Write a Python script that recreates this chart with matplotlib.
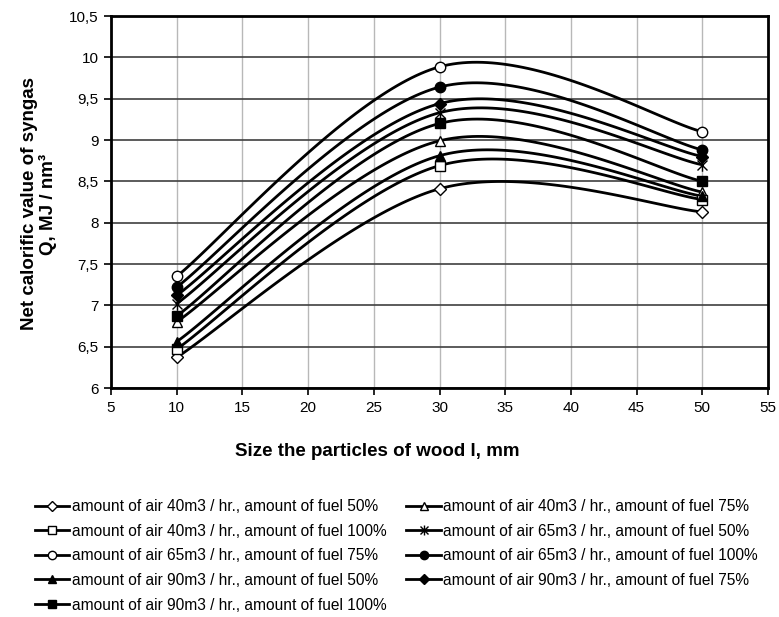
import numpy as np
import matplotlib
matplotlib.use("Agg")
import matplotlib.pyplot as plt
from matplotlib.path import Path
from matplotlib.ticker import FuncFormatter, MultipleLocator

plt.rcParams['font.family'] = ['Liberation Sans', 'DejaVu Sans']

# particle size, mm
sizes = [10, 30, 50]

labels = [
    "amount of air 40m3 / hr., amount of fuel 50%",
    "amount of air 40m3 / hr., amount of fuel 75%",
    "amount of air 40m3 / hr., amount of fuel 100%",
    "amount of air 65m3 / hr., amount of fuel 50%",
    "amount of air 65m3 / hr., amount of fuel 75%",
    "amount of air 65m3 / hr., amount of fuel 100%",
    "amount of air 90m3 / hr., amount of fuel 50%",
    "amount of air 90m3 / hr., amount of fuel 75%",
    "amount of air 90m3 / hr., amount of fuel 100%",
]

# net calorific value, MJ/nm3
air40_fuel50 = [6.37, 8.41, 8.13]
air40_fuel75 = [6.80, 8.99, 8.37]
air40_fuel100 = [6.47, 8.69, 8.28]
air65_fuel50 = [7.02, 9.33, 8.70]
air65_fuel75 = [7.35, 9.885, 9.10]
air65_fuel100 = [7.22, 9.64, 8.88]
air90_fuel50 = [6.56, 8.81, 8.32]
air90_fuel75 = [7.12, 9.44, 8.80]
air90_fuel100 = [6.87, 9.20, 8.50]

series = [air40_fuel50, air40_fuel75, air40_fuel100,
          air65_fuel50, air65_fuel75, air65_fuel100,
          air90_fuel50, air90_fuel75, air90_fuel100]

# asterisk marker like excel "star"
star = Path([(0, -1), (0, 1), (-0.8, -0.8), (0.8, 0.8), (-0.8, 0.8), (0.8, -0.8)],
            [Path.MOVETO, Path.LINETO, Path.MOVETO, Path.LINETO, Path.MOVETO, Path.LINETO])

styles = [
    dict(marker='D', mfc='white', ms=6),
    dict(marker='^', mfc='white', ms=7.5),
    dict(marker='s', mfc='white', ms=7),
    dict(marker=star, mfc='none', ms=9, mew=1.0),
    dict(marker='o', mfc='white', ms=7.5),
    dict(marker='o', mfc='black', ms=7.5),
    dict(marker='^', mfc='black', ms=7.5),
    dict(marker='D', mfc='black', ms=6),
    dict(marker='s', mfc='black', ms=7),
]


def smooth(x, y, n=60):
    # excel-like smoothed line (bezier, catmull-rom control points)
    x = np.asarray(x, float)
    y = np.asarray(y, float)
    P = np.column_stack([x, y])
    out = []
    t = np.linspace(0, 1, n)[:, None]
    for i in range(len(P) - 1):
        p0 = P[max(i - 1, 0)]
        p1 = P[i]
        p2 = P[i + 1]
        p3 = P[min(i + 2, len(P) - 1)]
        c1 = p1 + (p2 - p0) / 6
        c2 = p2 - (p3 - p1) / 6
        b = ((1 - t) ** 3) * p1 + 3 * ((1 - t) ** 2) * t * c1 + 3 * (1 - t) * t ** 2 * c2 + t ** 3 * p2
        out.append(b if i == 0 else b[1:])
    out = np.vstack(out)
    return out[:, 0], out[:, 1]


fig = plt.figure(figsize=(7.79, 6.17), dpi=100)
ax = fig.add_axes([111 / 779, 1 - 388 / 617, (768 - 111) / 779, (388 - 16) / 617])

handles = []
for vals, st, lab in zip(series, styles, labels):
    xs, ys = smooth(sizes, vals)
    ax.plot(xs, ys, color='black', lw=2.0, zorder=3, solid_capstyle='round')
    ax.plot(sizes, vals, ls='none', color='black', mec='black',
            mew=st.get('mew', 1.0), marker=st['marker'], mfc=st['mfc'], ms=st['ms'], zorder=4)
    h, = ax.plot([], [], color='black', lw=2.0, marker=st['marker'], mfc=st['mfc'],
                 mec='black', mew=st.get('mew', 1.0), ms=st['ms'] * 0.8, label=lab)
    handles.append(h)

ax.set_xlim(5, 55)
ax.set_ylim(6, 10.5)
ax.xaxis.set_major_locator(MultipleLocator(5))
ax.yaxis.set_major_locator(MultipleLocator(0.5))
ax.yaxis.set_major_formatter(FuncFormatter(lambda v, p: f"{v:g}".replace('.', ',')))

ax.grid(axis='x', color='#b8b8b8', lw=1.0, zorder=0)
ax.grid(axis='y', color='#404040', lw=1.2, zorder=0)
for s in ax.spines.values():
    s.set_linewidth(2.0)
    s.set_color('black')
ax.tick_params(direction='out', length=5, width=1.2, labelsize=11, pad=4)

fig.text(377 / 779, 1 - 452 / 617, "Size the particles of wood l, mm",
         ha='center', va='center', fontsize=13.5, fontweight='bold')
fig.text(39 / 779, 1 - 204 / 617, "Net calorific value of syngas\nQ, MJ / nm³",
         ha='center', va='center', rotation=90, fontsize=13.5, fontweight='bold',
         multialignment='center', linespacing=1.05)

order = [0, 2, 4, 6, 8, 1, 3, 5, 7]
fig.legend([handles[i] for i in order], [labels[i] for i in order],
           loc='upper left', bbox_to_anchor=(35 / 779, 1 - 499 / 617), ncol=2,
           frameon=False, fontsize=11.2, handlelength=2.2, handletextpad=0.15,
           labelspacing=0.62, columnspacing=1.3, borderaxespad=0, borderpad=0)

fig.savefig("out.png", dpi=100)
